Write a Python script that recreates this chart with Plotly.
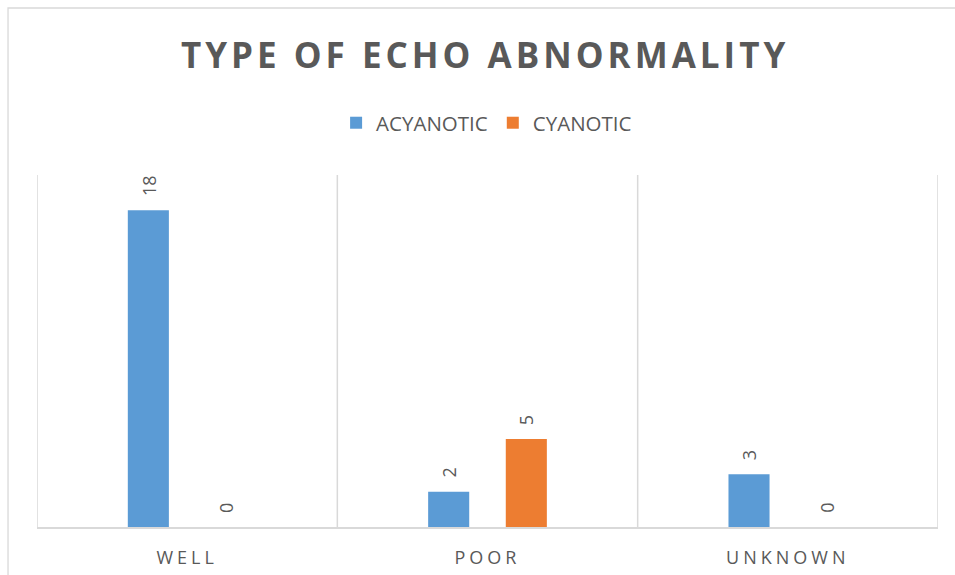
import plotly.graph_objects as go

# Echo abnormality counts by category
categories = ["WELL", "POOR", "UNKNOWN"]
acyanotic = [18, 2, 3]
cyanotic = [0, 5, 0]
series_names = ["ACYANOTIC", "CYANOTIC"]
series_colors = ["#5B9BD5", "#ED7D31"]

TEXT = "#595959"
GRID = "#D9D9D9"
FONT = "Open Sans"
BARGAP = 0.483
GROUPGAP = 0.471

fig = go.Figure()
for name, vals, col in zip(series_names, [acyanotic, cyanotic], series_colors):
    fig.add_trace(go.Bar(
        name=name, x=list(range(len(categories))), y=vals,
        marker=dict(color=col, line=dict(width=0)),
    ))

# Rotated value labels above each bar
slot = (1 - BARGAP) / 2
annotations = []
for k, vals in enumerate([acyanotic, cyanotic]):
    offset = (k - 0.5) * slot
    for i, v in enumerate(vals):
        annotations.append(dict(
            x=i + offset, y=v, xref="x", yref="y",
            text=str(v), showarrow=False, textangle=-90,
            yanchor="bottom", xanchor="center", yshift=12,
            font=dict(family=FONT, size=18, color=TEXT),
        ))

fig.update_layout(
    width=955, height=575,
    margin=dict(l=37, r=16.5, t=175, b=48, autoexpand=False),
    paper_bgcolor="white", plot_bgcolor="white",
    barmode="group", bargap=BARGAP, bargroupgap=GROUPGAP,
    title=dict(
        text="<b>TYPE OF ECHO ABNORMALITY</b>",
        x=0.508, xanchor="center", y=1 - 56 / 575, yanchor="middle",
        font=dict(family=FONT, size=35, color=TEXT),
    ),
    legend=dict(
        orientation="h", x=0.499, xanchor="center", y=1.148, yanchor="middle",
        font=dict(family=FONT, size=20.5, color=TEXT),
        itemwidth=30,
    ),
    xaxis=dict(
        tickmode="array", tickvals=list(range(len(categories))), ticktext=categories,
        range=[-0.5, len(categories) - 0.5], automargin=False,
        showgrid=False, showline=True, linecolor=GRID, linewidth=1.5,
        ticks="", ticklabelstandoff=14,
        tickfont=dict(family=FONT, size=18, color=TEXT),
        zeroline=False,
    ),
    yaxis=dict(
        range=[0, 20], visible=False, showgrid=False, zeroline=False,
        automargin=False,
    ),
    annotations=annotations,
    showlegend=True,
)

# Category separators
for b in [-0.5, 0.5, 1.5, 2.5]:
    fig.add_shape(type="line", xref="x", yref="paper", x0=b, x1=b, y0=0, y1=1,
                  line=dict(color=GRID, width=1.5), layer="below")

# Outer chart frame
fig.add_shape(type="rect", xref="paper", yref="paper",
              x0=(8 - 37) / 901.5, x1=(965 - 37) / 901.5,
              y0=(527 - 590) / 352, y1=(527 - 8) / 352,
              line=dict(color=GRID, width=1.3), fillcolor="rgba(0,0,0,0)", layer="below")

post = """
document.querySelectorAll('.gtitle').forEach(function(e){e.style.letterSpacing='4px';});
document.querySelectorAll('.xtick text').forEach(function(e){e.style.letterSpacing='4px';});
"""
fig.write_html("out.html", post_script=post)
